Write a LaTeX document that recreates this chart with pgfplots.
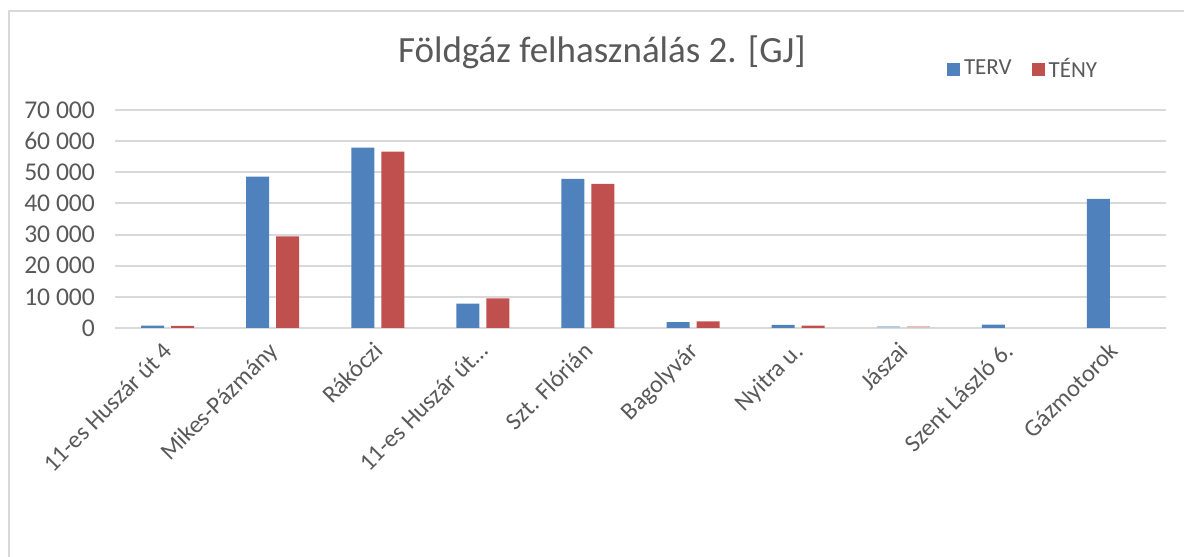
\documentclass[border=0pt]{standalone}
\usepackage{pgfplots}
\pgfplotsset{compat=1.18}
\usepackage{fontspec}
\setmainfont{Carlito}
\definecolor{terv}{HTML}{4F81BD}
\definecolor{teny}{HTML}{C0504D}
\definecolor{tervpale}{HTML}{B8CAE2}
\definecolor{tenypale}{HTML}{E4BEBD}
\definecolor{txt}{HTML}{595959}
\definecolor{gridc}{HTML}{D9D9D9}
\begin{document}
\begin{tikzpicture}
\useasboundingbox (0,0) rectangle (592pt,278.5pt);
\draw[gridc, line width=1pt] (4.25pt,0) -- (4.25pt,273pt) -- (592pt,273pt);
\node[txt, font=\fontsize{18.5}{21}\selectfont, anchor=base] at (301pt,247pt) {Földgáz felhasználás 2. [GJ]};
\begin{axis}[
  at={(57.5pt,114.5pt)}, anchor=south west,
  scale only axis, width=525.5pt, height=109pt,
  xmin=-0.5, xmax=9.5, ymin=0, ymax=70000,
  scaled y ticks=false,
  axis line style={draw=none},
  major tick length=0pt,
  ymajorgrids, grid style={gridc, line width=1pt},
  ytick={0,10000,20000,30000,40000,50000,60000,70000},
  yticklabels={0,{10 000},{20 000},{30 000},{40 000},{50 000},{60 000},{70 000}},
  yticklabel style={font=\fontsize{12.8}{15}\selectfont, text=txt, xshift=-6.5pt},
  xtick={0,1,2,3,4,5,6,7,8,9},
  xticklabels={{11-es Huszár út 4},{Mikes-Pázmány},{Rákóczi},{11-es Huszár út\ldots},{Szt. Flórián},{Bagolyvár},{Nyitra u.},{Jászai},{Szent László 6.},{Gázmotorok}},
  xticklabel style={font=\fontsize{12.2}{15}\selectfont, text=txt, rotate=45, anchor=north east, xshift=-3pt, yshift=1pt},
  legend style={at={(0.865,1.188)}, anchor=center, draw=none, fill=none,
    font=\fontsize{11.5}{13}\selectfont, text=txt, legend columns=2,
    /tikz/every even column/.append style={column sep=8pt}},
  legend image code/.code={\fill[#1] (0pt,-3.25pt) rectangle (6.5pt,3.25pt);},
]
\addplot[ybar, bar width=11.5pt, bar shift=-7.5pt, fill=terv, draw=none]
  coordinates {(0,800) (1,48600) (2,57900) (3,7800) (4,47900) (5,1900) (6,1000) (8,1100) (9,41500)};
\addlegendentry{TERV}
\addplot[ybar, bar width=11.5pt, bar shift=7.5pt, fill=teny, draw=none]
  coordinates {(0,700) (1,29400) (2,56600) (3,9500) (4,46300) (5,2100) (6,800)};
\addlegendentry{TÉNY}
\addplot[ybar, bar width=11.5pt, bar shift=-7.5pt, fill=tervpale, draw=none, forget plot]
  coordinates {(7,500)};
\addplot[ybar, bar width=11.5pt, bar shift=7.5pt, fill=tenypale, draw=none, forget plot]
  coordinates {(7,500)};
\end{axis}
\end{tikzpicture}
\end{document}
